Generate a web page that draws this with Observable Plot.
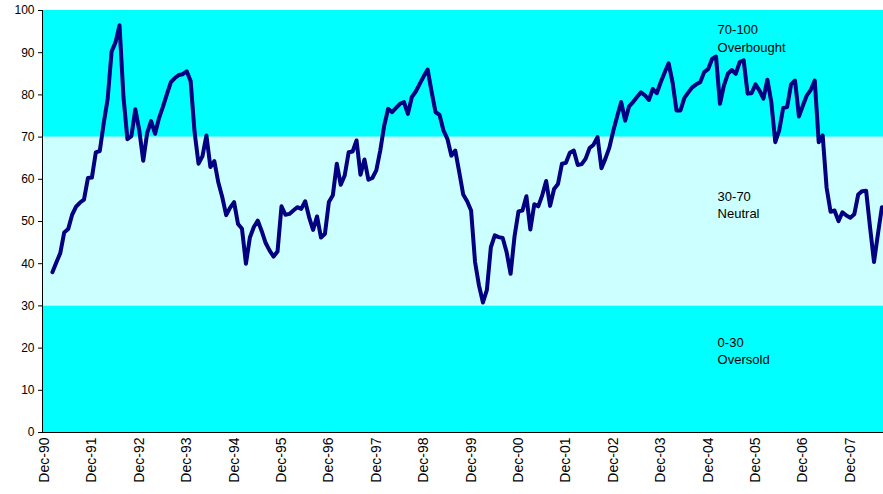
<!DOCTYPE html>
<html><head><meta charset="utf-8">
<script src="https://cdn.jsdelivr.net/npm/d3@7"></script>
<script src="https://cdn.jsdelivr.net/npm/@observablehq/plot@0.6"></script>
<style>body{margin:0;background:#fff}</style>
</head><body><div id="chart"></div>
<script>
// Monthly RSI values, first value is Feb-91 (month index 2, Dec-90 = 0)
const startIndex = 2;
const rsi = [
  38.0, 40.3, 42.5, 47.4, 48.2, 51.6, 53.5, 54.5, 55.2, 60.3, 60.4,
  66.4, 66.7, 73.3, 79.1, 90.3, 92.5, 96.5, 79.5, 69.5, 70.2, 76.6, 71.6,
  64.4, 71.0, 73.8, 70.8, 74.5, 77.2, 80.2, 83.0, 84.0, 84.7, 84.9, 85.6,
  83.3, 71.2, 63.7, 65.5, 70.4, 62.9, 64.3, 59.3, 55.8, 51.5, 53.3, 54.6,
  49.4, 48.3, 40.0, 46.2, 48.7, 50.2, 47.7, 44.9, 43.1, 41.7, 42.9, 53.6,
  51.6, 51.8, 52.6, 53.4, 53.0, 54.8, 51.0, 48.0, 51.2, 46.2, 47.1, 54.6,
  56.2, 63.7, 58.7, 60.9, 66.4, 66.6, 69.2, 61.1, 64.7, 59.9, 60.3, 62.1,
  66.8, 72.7, 76.7, 75.9, 76.9, 77.9, 78.3, 75.5, 79.5, 80.8, 82.6, 84.4,
  86.0, 80.8, 75.9, 75.3, 71.6, 69.6, 65.6, 66.8, 61.7, 56.4, 54.8, 52.6,
  40.4, 34.8, 30.8, 33.8, 43.9, 46.7, 46.3, 46.1, 42.7, 37.6, 46.5, 52.4,
  52.6, 56.0, 48.1, 54.1, 53.6, 56.2, 59.6, 53.7, 57.7, 58.9, 63.7, 63.9,
  66.3, 66.8, 63.4, 63.6, 64.9, 67.4, 68.2, 70.0, 62.6, 64.9, 67.5, 71.5,
  75.0, 78.3, 73.9, 77.3, 78.3, 79.5, 80.6, 79.9, 78.8, 81.4, 80.4, 83.0,
  85.3, 87.5, 83.0, 76.3, 76.3, 79.3, 80.6, 81.8, 82.5, 83.0, 85.4, 86.1,
  88.5, 89.1, 77.9, 82.2, 85.0, 85.9, 85.0, 87.8, 88.2, 80.3, 80.4, 82.5,
  81.0, 79.1, 83.6, 78.3, 68.8, 71.6, 76.9, 77.1, 82.5, 83.4, 74.9, 77.5,
  79.9, 81.2, 83.4, 68.8, 70.4, 58.0, 52.3, 52.6, 50.1, 52.2, 51.4, 50.9,
  51.7, 56.4, 57.2, 57.3, 48.6, 40.4, 47.1, 53.4
];
const yearTicks = ["Dec-90","Dec-91","Dec-92","Dec-93","Dec-94","Dec-95","Dec-96","Dec-97","Dec-98",
  "Dec-99","Dec-00","Dec-01","Dec-02","Dec-03","Dec-04","Dec-05","Dec-06","Dec-07"];
const yTicks = [0,10,20,30,40,50,60,70,80,90,100];
const bandLow = [0, 30, 70];
const bandHigh = [30, 70, 100];
const bandFill = ["#00FFFF", "#CCFFFF", "#00FFFF"];
const zoneLabels = ["70-100\nOverbought", "30-70\nNeutral", "0-30\nOversold"];
const zoneValue = [93.6, 54.2, 19.5];
const zoneMonth = 170.4;

const xDomain = [-0.5, 212.4];
const series = rsi.map((v, i) => ({m: i + startIndex, v}));
const bands = bandLow.map((lo, i) => ({lo, hi: bandHigh[i], fill: bandFill[i]}));
const zones = zoneLabels.map((t, i) => ({t, y: zoneValue[i], x: zoneMonth}));

const chart = Plot.plot({
  width: 883,
  height: 494,
  marginLeft: 42,
  marginRight: 0,
  marginTop: 10,
  marginBottom: 62,
  style: {fontFamily: "'Liberation Sans', Arial, sans-serif", fontSize: "12px", background: "#fff", color: "#000"},
  x: {domain: xDomain, axis: null},
  y: {domain: [0, 100], axis: null},
  marks: [
    Plot.rect(bands, {x1: xDomain[0], x2: xDomain[1], y1: "lo", y2: "hi", fill: d => d.fill}),
    Plot.lineY(series, {x: "m", y: "v", stroke: "#000080", strokeWidth: 4, strokeLinejoin: "round", strokeLinecap: "round"}),
    Plot.text(zones, {x: "x", y: "y", text: "t", textAnchor: "start", lineHeight: 1.33, fill: "#000", fontSize: 13}),
    Plot.axisY({ticks: yTicks, tickSize: 4, tickPadding: 4, label: null, fontSize: 12}),
    Plot.axisX({ticks: yearTicks.map((d, i) => i * 12), tickFormat: i => yearTicks[Math.round(i / 12)],
      tickRotate: -90, tickSize: 0, tickPadding: 5, label: null, fontSize: 14}),
    Plot.ruleY([0], {stroke: "#000", strokeWidth: 1}),
    Plot.ruleX([xDomain[0]], {stroke: "#000", strokeWidth: 1})
  ]
});
document.getElementById("chart").append(chart);
</script>
</body></html>
